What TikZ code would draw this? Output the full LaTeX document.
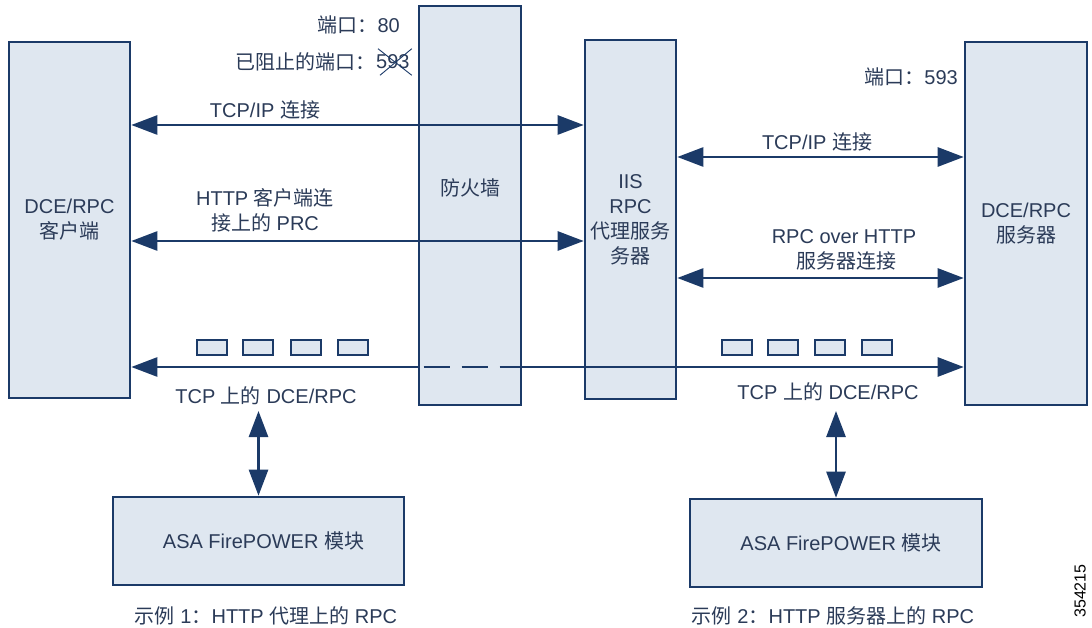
\documentclass[tikz,border=0pt]{standalone}
\usepackage{fontspec}
\setmainfont{Liberation Sans}
\newfontfamily\cjkfont{Noto Sans CJK SC}
\newcommand\zh[1]{{\cjkfont #1}}
\newcommand\dfs{\fontsize{20}{25}\selectfont}
\usetikzlibrary{arrows.meta,calc}
\definecolor{navy}{HTML}{1B3A68}
\definecolor{boxfill}{HTML}{DFE7F0}
\definecolor{txt}{HTML}{2B3B58}
\begin{document}
\begin{tikzpicture}[x=1pt,y=-1pt,
  box/.style={draw=navy,fill=boxfill,line width=2.6pt,inner sep=0pt,text=txt,align=center,font=\dfs},
  pkt/.style={draw=navy,fill=boxfill,line width=2pt,minimum width=30pt,minimum height=15pt,inner sep=0pt},
  lbl/.style={text=txt,font=\dfs,align=center,inner sep=1pt},
  tipa/.tip={Triangle[length=26pt,width=19pt]},
  dbl/.style={draw=navy,line width=2.6pt,tipa-tipa},
  sgl/.style={draw=navy,line width=2.6pt}
]
\useasboundingbox (0,0) rectangle (1092,628);
\fill[white] (0,0) rectangle (1092,628);

% main boxes
\node[box,minimum width=121pt,minimum height=356pt] (client) at (69.5,220) {DCE/RPC\\\zh{客户端}};
\node[box,minimum width=102pt,minimum height=399pt] (firewall) at (470,205.5) {};
\node[lbl] (fwtext) at (470,188) {\zh{防火墙}};
\node[box,minimum width=91pt,minimum height=359pt] (iis) at (630.5,219.5) {IIS\\RPC\\\zh{代理服务}\\\zh{务器}};
\node[box,minimum width=122pt,minimum height=363pt] (server) at (1026,223.5) {DCE/RPC\\\zh{服务器}};

% port labels
\node[lbl,anchor=east] (port80) at (401,25) {\zh{端口：}80};
\node[lbl,anchor=east,inner sep=0pt] (blocked) at (376,62) {\zh{已阻止的端口：}};
\node[lbl,anchor=west,inner sep=0pt] (n593) at (blocked.east) {593};
\draw[navy,line width=0.9pt] ([xshift=2pt,yshift=6pt]n593.north west) -- ([xshift=2pt,yshift=-6pt]n593.south east);
\draw[navy,line width=0.9pt] ([xshift=4pt,yshift=-6pt]n593.south west) -- ([xshift=2pt,yshift=6pt]n593.north east);
\node[lbl,anchor=east] (port593) at (959,77) {\zh{端口：}593};

% left connections
\node[lbl] (l1) at (265,110) {TCP/IP \zh{连接}};
\draw[dbl] (client.east |- 0,125) -- (iis.west |- 0,125);
\node[lbl] (l2) at (265,210) {HTTP \zh{客户端连}\\\zh{接上的} PRC};
\draw[dbl] (client.east |- 0,241) -- (iis.west |- 0,241);

% right connections
\node[lbl] (r1) at (817,142) {TCP/IP \zh{连接}};
\draw[dbl] (iis.east |- 0,157) -- (server.west |- 0,157);
\node[lbl] (r2) at (844,250) {RPC over HTTP\\\ \zh{服务器连接}};
\draw[dbl] (iis.east |- 0,278) -- (server.west |- 0,278);

% bottom DCE/RPC over TCP line
\coordinate (bl) at (client.east |- 0,367);
\coordinate (fwl) at (firewall.west |- 0,367);
\coordinate (fwr) at (firewall.east |- 0,367);
\coordinate (br) at (server.west |- 0,367);
\draw[sgl,tipa-] (bl) -- (fwl);
\draw[navy,line width=2.6pt,dash pattern=on 26pt off 12pt,dash phase=32pt] (fwl) -- (fwr);
\draw[sgl,-tipa] (fwr) -- (br);

% packets
\node[pkt] (s1) at (212,347.5) {};
\node[pkt] (s2) at (258,347.5) {};
\node[pkt] (s3) at (306,347.5) {};
\node[pkt] (s4) at (353,347.5) {};
\node[pkt] (s5) at (737,347.5) {};
\node[pkt] (s6) at (783,347.5) {};
\node[pkt] (s7) at (830,347.5) {};
\node[pkt] (s8) at (877,347.5) {};

\node[lbl] (t1) at (266,396) {TCP \zh{上的} DCE/RPC};
\node[lbl] (t2) at (828,392) {TCP \zh{上的} DCE/RPC};

% ASA modules
\node[box,minimum width=291pt,minimum height=88pt] (asa1) at (258.5,541) {\hspace*{10pt}ASA FirePOWER \zh{模块}};
\node[box,minimum width=292pt,minimum height=88pt] (asa2) at (836,543) {\hspace*{10pt}ASA FirePOWER \zh{模块}};
\draw[dbl] (asa1.north) -- (asa1.north |- 0,411);
\draw[dbl] (asa2.north) -- (asa2.north |- 0,411);

% captions
\node[lbl] (c1) at (266,616) {\zh{示例} 1\zh{：}HTTP \zh{代理上的} RPC};
\node[lbl] (c2) at (833,616) {\zh{示例} 2\zh{：}HTTP \zh{服务器上的} RPC};

\node[rotate=90,font=\fontsize{16}{16}\selectfont,inner sep=0pt] (figno) at (1080,591) {354215};
\end{tikzpicture}
\end{document}
